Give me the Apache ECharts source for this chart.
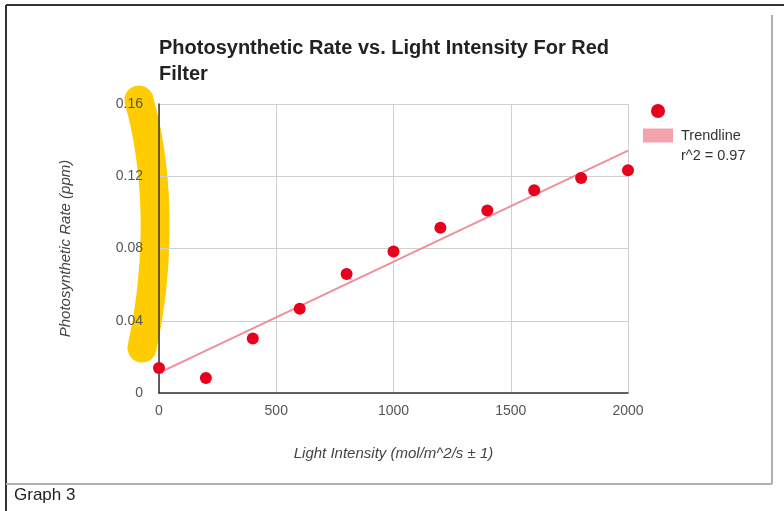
<!DOCTYPE html>
<html>
<head>
<meta charset="utf-8">
<script src="https://cdn.jsdelivr.net/npm/echarts@6/dist/echarts.min.js"></script>
<style>
html,body{margin:0;padding:0;background:#fff;}
#chart{width:784px;height:511px;}
</style>
</head>
<body>
<div id="chart"></div>
<script>
// Data
const lightIntensity = [0, 200, 400, 600, 800, 1000, 1200, 1400, 1600, 1800, 2000];
const photoRate = [0.0138, 0.0083, 0.0302, 0.0467, 0.0659, 0.0784, 0.0915, 0.1011, 0.1122, 0.1190, 0.1233];
const trendX = [0, 2000];
const trendY = [0.0111, 0.1342];
const xTicks = [0, 500, 1000, 1500, 2000];
const yTicks = [0, 0.04, 0.08, 0.12, 0.16];
const rSquared = 'r^2 = 0.97';

const FONT = '"Liberation Sans", Arial, sans-serif';
const chart = echarts.init(document.getElementById('chart'), null, {renderer: 'canvas'});

const option = {
  backgroundColor: '#fff',
  animation: false,
  title: {
    text: 'Photosynthetic Rate vs. Light Intensity For Red\nFilter',
    left: 154,
    top: 30,
    textStyle: {fontFamily: FONT, fontWeight: 'bold', fontSize: 20, color: '#222', lineHeight: 26}
  },
  legend: {
    orient: 'vertical',
    left: 638,
    top: 99,
    itemWidth: 30,
    itemHeight: 14,
    itemGap: 10,
    textStyle: {fontFamily: FONT, fontSize: 14.5, color: '#333', padding: [0, 0, 0, 3]},
    formatter: function (name) { return name === 'Trendline' ? 'Trendline' : ''; },
    data: [
      {name: 'Rate', icon: 'circle', itemStyle: {color: '#e8001c', opacity: 1}},
      {name: 'Trendline', icon: 'rect', itemStyle: {color: '#f4a3ad'}}
    ]
  },
  grid: {left: 159, right: 156, top: 104, bottom: 118, containLabel: false},
  xAxis: {
    type: 'value',
    min: xTicks[0],
    max: xTicks[xTicks.length - 1],
    interval: xTicks[1] - xTicks[0],
    name: 'Light Intensity (mol/m^2/s \u00b1 1)',
    nameLocation: 'middle',
    nameGap: 53,
    nameTextStyle: {fontFamily: FONT, fontStyle: 'italic', fontSize: 15, color: '#444'},
    axisLine: {show: true, lineStyle: {color: '#333', width: 1.5}},
    axisTick: {show: false},
    axisLabel: {fontFamily: FONT, fontSize: 14, color: '#555', margin: 11,
      formatter: function (v) { return String(v); }},
    splitLine: {show: true, lineStyle: {color: '#d0d0d0', width: 1}}
  },
  yAxis: {
    type: 'value',
    min: yTicks[0],
    max: yTicks[yTicks.length - 1],
    interval: yTicks[1] - yTicks[0],
    name: 'Photosynthetic Rate (ppm)',
    nameLocation: 'middle',
    nameGap: 86,
    nameTextStyle: {fontFamily: FONT, fontStyle: 'italic', fontSize: 15, color: '#444'},
    axisLine: {show: true, lineStyle: {color: '#333', width: 1.5}},
    axisTick: {show: false},
    axisLabel: {
      fontFamily: FONT, fontSize: 14, color: '#555', margin: 16,
      formatter: function (v) { return v === 0 ? '0' : v.toFixed(2); }
    },
    splitLine: {show: true, lineStyle: {color: '#d0d0d0', width: 1}}
  },
  graphic: [
    // yellow highlighter stroke over the y axis
    {
      type: 'bezierCurve', z: -5, silent: true,
      shape: {x1: 139, y1: 100, cpx1: 164, cpy1: 190, cpx2: 156, cpy2: 285, x2: 142, y2: 348},
      style: {stroke: '#fecc00', lineWidth: 29, lineCap: 'round', fill: null}
    },
    // frame
    {type: 'line', shape: {x1: 6, y1: 5, x2: 784, y2: 5}, style: {stroke: '#333', lineWidth: 2}},
    {type: 'line', shape: {x1: 6, y1: 5, x2: 6, y2: 511}, style: {stroke: '#333', lineWidth: 2}},
    {type: 'line', shape: {x1: 772, y1: 15, x2: 772, y2: 484}, style: {stroke: '#b0b0b0', lineWidth: 2}},
    {type: 'line', shape: {x1: 6, y1: 484, x2: 772, y2: 484}, style: {stroke: '#b0b0b0', lineWidth: 2}},
    {type: 'text', left: 14, top: 487, style: {text: 'Graph 3', font: '17px ' + FONT, fill: '#222'}},
    {type: 'text', left: 681, top: 148, style: {text: rSquared, font: '14.5px ' + FONT, fill: '#333'}}
  ],
  series: [
    {
      name: 'Trendline',
      type: 'line',
      data: trendX.map((x, i) => [x, trendY[i]]),
      showSymbol: false,
      symbol: 'none',
      lineStyle: {color: '#ef8f9b', width: 2},
      itemStyle: {color: '#f4a3ad'},
      z: 2
    },
    {
      name: 'Rate',
      type: 'scatter',
      data: lightIntensity.map((x, i) => [x, photoRate[i]]),
      symbol: 'circle',
      symbolSize: 12,
      itemStyle: {color: '#e8001c', opacity: 1},
      z: 3
    }
  ]
};
chart.setOption(option);
</script>
</body>
</html>
